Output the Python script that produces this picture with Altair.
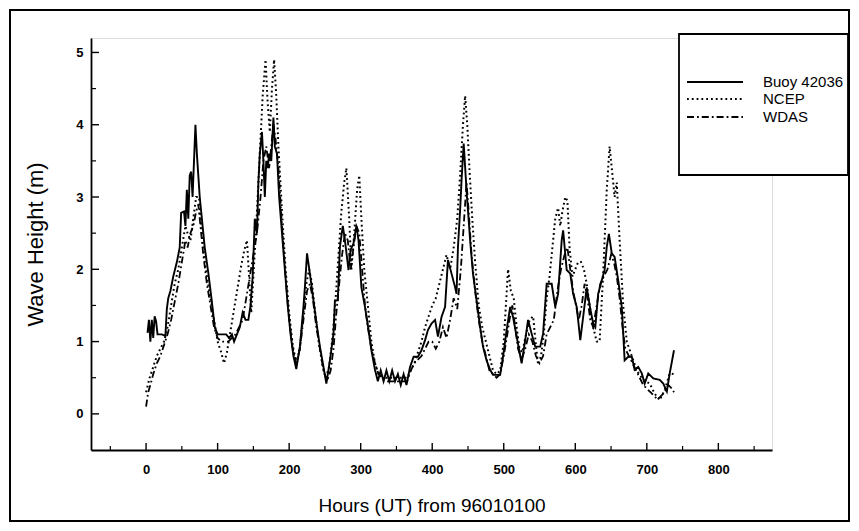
import altair as alt
import pandas as pd

# ---------------- data ----------------
series_names = ["Buoy 42036", "NCEP", "WDAS"]

buoy_hours = [2, 4, 6, 8, 10, 12, 14, 16, 22, 27, 29, 31, 34, 38, 43, 47, 49, 53, 55, 57, 59, 61, 63, 65, 67, 69, 71, 73, 75, 78, 82, 87, 92, 96, 100, 106, 112, 116, 120, 123, 127, 131, 135, 139, 143, 146, 149, 152, 155, 157, 159, 162, 164, 166, 168, 170, 172, 175, 178, 180, 183, 186, 190, 194, 198, 202, 206, 210, 215, 220, 222, 225, 229, 234, 239, 243, 248, 252, 257, 262, 264, 268, 271, 275, 278, 283, 286, 290, 294, 297, 301, 306, 311, 315, 320, 324, 328, 332, 336, 340, 344, 348, 352, 356, 360, 364, 369, 374, 380, 385, 390, 394, 399, 404, 408, 413, 418, 422, 427, 432, 434, 436, 439, 441, 444, 448, 453, 457, 462, 467, 471, 476, 481, 485, 490, 495, 499, 504, 509, 513, 518, 525, 530, 534, 539, 544, 551, 555, 560, 567, 572, 576, 581, 583, 588, 593, 597, 602, 607, 611, 616, 621, 625, 628, 632, 637, 641, 644, 647, 651, 655, 660, 665, 669, 674, 679, 683, 688, 693, 697, 702, 709, 718, 723, 728, 732, 738]
buoy_values = [1.12, 1.3, 1.0, 1.3, 1.05, 1.35, 1.28, 1.1, 1.1, 1.08, 1.45, 1.6, 1.7, 1.9, 2.1, 2.3, 2.78, 2.8, 2.6, 3.1, 2.7, 3.3, 3.35, 3.0, 3.5, 4.0, 3.6, 3.3, 3.0, 2.7, 2.3, 1.95, 1.55, 1.2, 1.1, 1.1, 1.1, 1.05, 1.1, 1.0, 1.1, 1.2, 1.4, 1.3, 1.3, 1.5, 1.9, 2.7, 2.5, 3.2, 3.6, 3.9, 3.5, 3.0, 3.5, 3.4, 3.6, 3.5, 4.1, 3.7, 3.6, 3.0, 2.5, 2.0, 1.5, 1.1, 0.8, 0.62, 0.93, 1.48, 1.75, 2.22, 1.94, 1.57, 1.2, 0.93, 0.65, 0.42, 0.74, 1.11, 1.57, 1.57, 2.31, 2.6, 2.4, 1.99, 2.27, 2.36, 2.6, 2.4, 1.75, 1.48, 1.16, 0.88, 0.61, 0.45, 0.6, 0.45, 0.6, 0.45, 0.6, 0.45, 0.55, 0.4, 0.55, 0.4, 0.65, 0.79, 0.79, 0.88, 1.02, 1.16, 1.25, 1.3, 1.07, 1.34, 1.48, 2.13, 1.94, 1.75, 1.66, 2.31, 2.82, 3.23, 3.74, 3.09, 2.4, 1.94, 1.57, 1.2, 0.93, 0.74, 0.61, 0.54, 0.54, 0.54, 0.79, 1.16, 1.48, 1.34, 1.07, 0.7, 1.02, 1.3, 1.11, 0.93, 0.93, 1.11, 1.8, 1.8, 1.48, 1.66, 2.4, 2.54, 1.99, 1.94, 1.66, 1.48, 1.02, 1.34, 1.75, 1.45, 1.25, 1.2, 1.66, 1.85, 1.99, 2.31, 2.49, 2.22, 2.17, 1.85, 1.48, 0.74, 0.79, 0.79, 0.61, 0.65, 0.56, 0.42, 0.56, 0.49, 0.47, 0.42, 0.31, 0.56, 0.88]

ncep_hours = [0, 5, 10, 15, 20, 25, 30, 35, 40, 45, 50, 55, 58, 62, 66, 70, 74, 77, 81, 85, 90, 95, 100, 105, 109, 113, 118, 123, 128, 133, 137, 141, 144, 147, 150, 154, 157, 160, 163, 167, 170, 173, 176, 179, 182, 185, 190, 195, 200, 205, 210, 215, 220, 224, 228, 232, 237, 242, 247, 251, 256, 261, 265, 269, 273, 277, 280, 284, 287, 291, 295, 298, 301, 305, 310, 315, 320, 325, 335, 345, 355, 365, 370, 375, 380, 385, 390, 395, 400, 405, 410, 415, 420, 425, 430, 435, 439, 443, 446, 449, 452, 456, 460, 465, 470, 475, 480, 485, 490, 495, 500, 503, 506, 510, 514, 518, 522, 526, 530, 536, 541, 545, 548, 552, 556, 560, 564, 568, 572, 576, 579, 582, 586, 589, 592, 596, 600, 604, 608, 612, 616, 620, 625, 630, 634, 639, 644, 648, 653, 655, 658, 662, 667, 672, 679, 686, 695, 704, 711, 718, 725, 732, 738]
ncep_values = [0.3, 0.5, 0.65, 0.8, 0.9, 1.0, 1.2, 1.5, 1.8, 2.0, 2.3, 2.6, 2.5, 2.4, 2.7, 3.0, 3.0, 2.6, 2.2, 1.9, 1.6, 1.3, 1.0, 0.85, 0.7, 0.85, 1.15, 1.45, 1.75, 2.05, 2.25, 2.4, 1.9, 1.4, 1.9, 2.6, 3.2, 3.8, 4.4, 4.9, 4.3, 3.9, 4.5, 4.9, 4.4, 3.7, 2.8, 2.0, 1.4, 0.95, 0.7, 0.9, 1.4, 1.8, 2.0, 1.8, 1.35, 0.95, 0.65, 0.5, 0.65, 1.1, 1.6, 2.2, 2.8, 3.2, 3.4, 2.7, 2.0, 2.5, 3.1, 3.3, 2.7, 2.0, 1.5, 1.0, 0.7, 0.55, 0.5, 0.5, 0.5, 0.5, 0.6, 0.7, 0.85, 1.0, 1.2, 1.35, 1.5, 1.6, 1.8, 2.0, 2.2, 2.0, 2.3, 2.7, 3.3, 4.0, 4.4, 4.0, 3.4, 2.7, 2.1, 1.5, 1.2, 1.0, 0.8, 0.6, 0.55, 0.6, 1.0, 1.5, 2.0, 1.7, 1.6, 1.2, 0.9, 0.85, 1.05, 1.3, 1.35, 0.95, 0.68, 0.8, 1.1, 1.6, 1.9, 2.3, 2.7, 2.85, 2.6, 2.8, 3.0, 2.95, 2.3, 1.9, 2.0, 2.1, 2.1, 2.0, 1.8, 1.5, 1.2, 1.0, 1.0, 1.94, 3.1, 3.7, 3.2, 3.0, 3.2, 2.4, 1.5, 1.0, 0.8, 0.6, 0.47, 0.42, 0.28, 0.19, 0.33, 0.56, 0.55]

wdas_hours = [0, 3, 6, 10, 15, 20, 25, 30, 35, 40, 45, 50, 55, 58, 62, 66, 70, 73, 76, 80, 85, 90, 95, 100, 105, 110, 115, 120, 125, 130, 135, 140, 145, 150, 155, 160, 164, 168, 172, 175, 178, 181, 185, 190, 195, 200, 205, 210, 215, 220, 225, 229, 233, 238, 243, 248, 253, 258, 262, 266, 270, 274, 278, 282, 286, 290, 294, 298, 302, 306, 310, 315, 320, 325, 335, 345, 355, 365, 370, 375, 380, 385, 390, 395, 400, 405, 410, 415, 420, 425, 430, 435, 440, 444, 448, 451, 455, 460, 465, 470, 475, 480, 485, 490, 495, 500, 505, 508, 512, 516, 520, 525, 530, 535, 540, 545, 550, 555, 560, 565, 570, 575, 580, 585, 589, 593, 597, 601, 605, 609, 613, 617, 621, 625, 630, 635, 640, 645, 650, 654, 658, 662, 666, 670, 675, 680, 685, 690, 695, 700, 705, 710, 715, 720, 725, 730, 735, 738]
wdas_values = [0.1, 0.3, 0.4, 0.55, 0.7, 0.8, 0.95, 1.1, 1.3, 1.55, 1.8, 2.1, 2.4, 2.3, 2.5, 2.6, 2.8, 2.9, 2.6, 2.2, 1.8, 1.5, 1.2, 1.05, 1.0, 1.0, 1.0, 1.05, 1.1, 1.2, 1.3, 1.6, 1.9, 2.2, 2.5, 3.0, 3.5, 3.7, 3.4, 3.7, 4.0, 3.8, 3.4, 2.6, 1.9, 1.3, 0.9, 0.7, 0.9, 1.3, 1.7, 1.8, 1.6, 1.2, 0.9, 0.6, 0.45, 0.6, 0.9, 1.4, 1.8, 2.2, 2.5, 2.4, 2.0, 2.3, 2.6, 2.5, 2.0, 1.5, 1.2, 0.9, 0.7, 0.55, 0.45, 0.45, 0.45, 0.45, 0.6, 0.7, 0.75, 0.8, 0.9, 1.0, 1.0, 0.9, 1.0, 1.2, 1.05, 1.3, 1.6, 1.45, 2.0, 2.6, 3.2, 2.8, 2.2, 1.7, 1.3, 1.0, 0.8, 0.6, 0.55, 0.5, 0.55, 0.8, 1.1, 1.3, 1.5, 1.2, 0.9, 0.75, 0.9, 1.1, 1.0, 0.8, 0.7, 0.8, 1.1, 1.2, 1.3, 1.7, 2.0, 2.2, 2.3, 2.0, 1.7, 1.5, 1.3, 1.5, 1.8, 1.6, 1.3, 1.2, 1.5, 1.8, 1.9, 2.0, 2.2, 2.1, 1.9, 1.6, 1.2, 0.9, 0.8, 0.7, 0.6, 0.5, 0.4, 0.35, 0.3, 0.25, 0.2, 0.25, 0.3, 0.4, 0.35, 0.3]

x_tick_values = [0, 100, 200, 300, 400, 500, 600, 700, 800]
x_minor_values = [-50, 50, 150, 250, 350, 450, 550, 650, 750, 850]
y_tick_values = [0, 1, 2, 3, 4, 5]
y_minor_values = [0.5, 1.5, 2.5, 3.5, 4.5]

# ---------------- layout ----------------
W, H = 681, 412
FONT = "Liberation Sans"
xscale = alt.Scale(domain=[-77, 875], nice=False, zero=False)
yscale = alt.Scale(domain=[-0.5, 5.2], nice=False, zero=False)

xaxis = alt.Axis(values=x_tick_values, format="d", title="Hours (UT) from 96010100",
                 grid=False, ticks=False, tickSize=0, labelPadding=13, titlePadding=20,
                 labelFont=FONT, labelFontSize=13, labelFontWeight="bold", labelColor="black",
                 titleFont=FONT, titleFontSize=19, titleFontWeight="normal", titleColor="black",
                 domainColor="black", domainWidth=1.8)
yaxis = alt.Axis(values=y_tick_values, format="d", title="Wave Height (m)",
                 grid=False, ticks=False, tickSize=0, labelPadding=8, titlePadding=28,
                 labelFont=FONT, labelFontSize=13, labelFontWeight="bold", labelColor="black",
                 titleFont=FONT, titleFontSize=22, titleFontWeight="normal", titleColor="black",
                 domainColor="black", domainWidth=1.8)

styles = {
    "Buoy 42036": dict(strokeWidth=1.9, dash=[1, 0]),
    "NCEP": dict(strokeWidth=2.0, dash=[1.8, 3]),
    "WDAS": dict(strokeWidth=1.8, dash=[7, 3, 1.8, 3]),
}
series_data = {
    "Buoy 42036": (buoy_hours, buoy_values),
    "NCEP": (ncep_hours, ncep_values),
    "WDAS": (wdas_hours, wdas_values),
}

layers = []

# outer figure frame
frame = alt.Chart(pd.DataFrame({"k": [0]})).mark_rect(
    filled=False, stroke="black", strokeWidth=2
).encode(x=alt.value(-81), x2=alt.value(W + 77), y=alt.value(-28), y2=alt.value(H + 71))
layers.append(frame)

for name in series_names:
    hrs, vals = series_data[name]
    df = pd.DataFrame({"hour": hrs, "value": vals, "series": name})
    st = styles[name]
    kw = dict(color="black", strokeWidth=st["strokeWidth"], clip=True)
    if name != "Buoy 42036":
        kw["strokeDash"] = st["dash"]
    ln = alt.Chart(df).mark_line(**kw).encode(
        x=alt.X("hour:Q", scale=xscale, axis=xaxis),
        y=alt.Y("value:Q", scale=yscale, axis=yaxis),
    )
    layers.append(ln)

# inward ticks
xt = alt.Chart(pd.DataFrame({"hour": x_tick_values})).mark_rule(color="black", strokeWidth=1.4).encode(
    x=alt.X("hour:Q", scale=xscale, axis=xaxis), y=alt.value(H), y2=alt.value(H - 7))
xm = alt.Chart(pd.DataFrame({"hour": x_minor_values})).mark_rule(color="black", strokeWidth=1.2).encode(
    x=alt.X("hour:Q", scale=xscale, axis=xaxis), y=alt.value(H), y2=alt.value(H - 4))
yt = alt.Chart(pd.DataFrame({"value": y_tick_values})).mark_rule(color="black", strokeWidth=1.4).encode(
    y=alt.Y("value:Q", scale=yscale, axis=yaxis), x=alt.value(0), x2=alt.value(8))
ym = alt.Chart(pd.DataFrame({"value": y_minor_values})).mark_rule(color="black", strokeWidth=1.2).encode(
    y=alt.Y("value:Q", scale=yscale, axis=yaxis), x=alt.value(0), x2=alt.value(5))
layers += [xt, xm, yt, ym]

# legend box
lx0, lx1, ly0, ly1 = 588, 757, -4, 137
legend_box = alt.Chart(pd.DataFrame({"k": [0]})).mark_rect(
    fill="white", stroke="black", strokeWidth=1.8
).encode(x=alt.value(lx0), x2=alt.value(lx1), y=alt.value(ly0), y2=alt.value(ly1))
layers.append(legend_box)
row_y = [44, 61, 79]
for name, ry in zip(series_names, row_y):
    st = styles[name]
    rkw = dict(color="black", strokeWidth=st["strokeWidth"])
    if name != "Buoy 42036":
        rkw["strokeDash"] = st["dash"]
    seg = alt.Chart(pd.DataFrame({"series": [name]})).mark_rule(**rkw).encode(
        x=alt.value(596), x2=alt.value(652), y=alt.value(ry))
    txt = alt.Chart(pd.DataFrame({"series": [name]})).mark_text(
        align="left", baseline="middle", font=FONT, fontSize=15, color="black"
    ).encode(x=alt.value(672), y=alt.value(ry), text="series:N")
    layers += [seg, txt]

chart = alt.layer(*layers).properties(
    width=W, height=H,
    autosize=alt.AutoSizeParams(type="none"),
    padding={"left": 83, "top": 30, "right": 79, "bottom": 73},
).configure_view(stroke=None).configure(background="white")

chart.save("out.html", embed_options={"renderer": "svg", "actions": False})
